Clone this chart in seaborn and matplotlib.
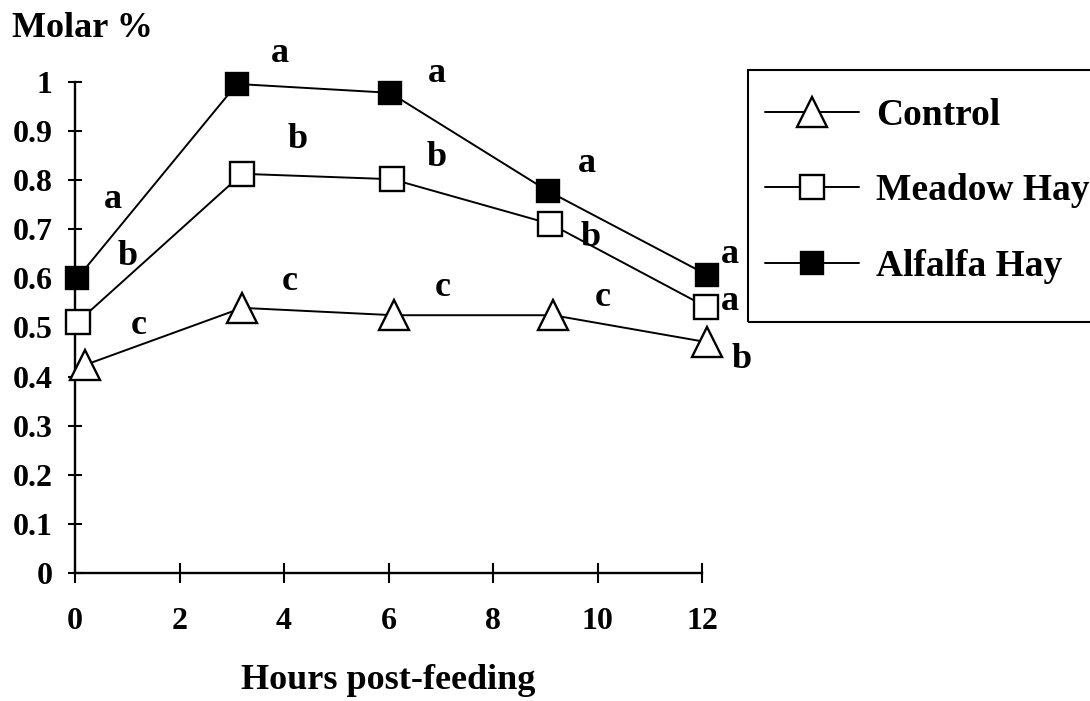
import matplotlib
matplotlib.use("Agg")
import matplotlib.pyplot as plt
from matplotlib.patches import Rectangle
import seaborn as sns
import pandas as pd

# ---- data ----
control_x = [0.2, 3.2, 6.1, 9.15, 12.1]
control_y = [0.424, 0.54, 0.525, 0.525, 0.47]
meadow_x = [0.05, 3.2, 6.07, 9.1, 12.08]
meadow_y = [0.511, 0.813, 0.802, 0.711, 0.542]
alfalfa_x = [0.04, 3.1, 6.03, 9.05, 12.1]
alfalfa_y = [0.60, 0.996, 0.978, 0.778, 0.607]

# significance letters: (text, x, y)
letters_text = ["a", "b", "c", "a", "b", "c", "a", "b", "c", "a", "b", "c", "a", "a", "b"]
letters_x = [0.73, 1.01, 1.22, 3.92, 4.27, 4.11, 6.93, 6.93, 7.04, 9.8, 9.86, 10.1, 12.54, 12.54, 12.76]
letters_y = [0.76, 0.644, 0.505, 1.059, 0.882, 0.593, 1.018, 0.847, 0.582, 0.835, 0.684, 0.562, 0.648, 0.552, 0.434]

x_ticks = [0, 2, 4, 6, 8, 10, 12]
y_ticks = [0, 0.1, 0.2, 0.3, 0.4, 0.5, 0.6, 0.7, 0.8, 0.9, 1]
y_ticklabels = ["0", "0.1", "0.2", "0.3", "0.4", "0.5", "0.6", "0.7", "0.8", "0.9", "1"]

sns.set_theme(style="white")
plt.rcParams["font.family"] = ["Liberation Serif", "DejaVu Serif"]
plt.rcParams["font.weight"] = "bold"
plt.rcParams["text.color"] = "black"
plt.rcParams["axes.labelcolor"] = "black"
plt.rcParams["xtick.color"] = "black"
plt.rcParams["ytick.color"] = "black"

fig = plt.figure(figsize=(10.9, 7.01), dpi=100)
ax = fig.add_axes([75 / 1090, (701 - 573) / 701, 627 / 1090, 491 / 701])

df_c = pd.DataFrame({"x": control_x, "y": control_y})
df_m = pd.DataFrame({"x": meadow_x, "y": meadow_y})
df_a = pd.DataFrame({"x": alfalfa_x, "y": alfalfa_y})

common = dict(color="black", linewidth=1.4, markeredgecolor="black",
              markeredgewidth=1.7, clip_on=False, zorder=3)
sns.lineplot(data=df_c, x="x", y="y", ax=ax, marker="^", markersize=21,
             markerfacecolor="white", label="Control", **common)
sns.lineplot(data=df_m, x="x", y="y", ax=ax, marker="s", markersize=17,
             markerfacecolor="white", label="Meadow Hay", **common)
sns.lineplot(data=df_a, x="x", y="y", ax=ax, marker="s", markersize=16,
             markerfacecolor="black", label="Alfalfa Hay", **common)

for t, lx, ly in zip(letters_text, letters_x, letters_y):
    ax.text(lx, ly, t, ha="center", va="center", fontsize=26,
            fontweight="bold", color="black", clip_on=False)

ax.set_xlim(0, 12)
ax.set_ylim(0, 1)
ax.set_xticks(x_ticks)
ax.set_xticklabels([str(v) for v in x_ticks])
ax.set_yticks(y_ticks)
ax.set_yticklabels(y_ticklabels)
ax.tick_params(axis="both", which="major", bottom=True, left=True,
               direction="inout", width=1.5, colors="black", labelsize=23)
ax.tick_params(axis="y", length=10, pad=11)
ax.tick_params(axis="x", length=15, pad=17)
for lab in ax.get_xticklabels() + ax.get_yticklabels():
    lab.set_fontweight("bold")

sns.despine(ax=ax)
for s in ["left", "bottom"]:
    ax.spines[s].set_linewidth(1.7)
    ax.spines[s].set_color("black")
ax.set_facecolor("white")

ax.set_xlabel("Hours post-feeding", fontsize=26, fontweight="bold", va="top")
ax.xaxis.set_label_coords((388 - 75) / 627, -(664 - 573) / 491)
ax.set_ylabel("")

fig.text(12 / 1090, (701 - 37) / 701, "Molar %", fontsize=26,
         fontweight="bold", ha="left", va="baseline")

leg = ax.legend(loc="upper left",
                bbox_to_anchor=(765 / 1090, (701 - 98) / 701),
                bbox_transform=fig.transFigure,
                fontsize=27, frameon=False,
                handlelength=2.5, handletextpad=0.45, labelspacing=1.08,
                borderpad=0.0, borderaxespad=0.0)
for txt in leg.get_texts():
    txt.set_fontweight("bold")
    txt.set_color("black")

fig.patches.append(Rectangle((748 / 1090, (701 - 322) / 701), 360 / 1090, 252 / 701,
                             transform=fig.transFigure, fill=False,
                             edgecolor="black", linewidth=1.5))

fig.savefig("out.png", dpi=100, facecolor="white")
